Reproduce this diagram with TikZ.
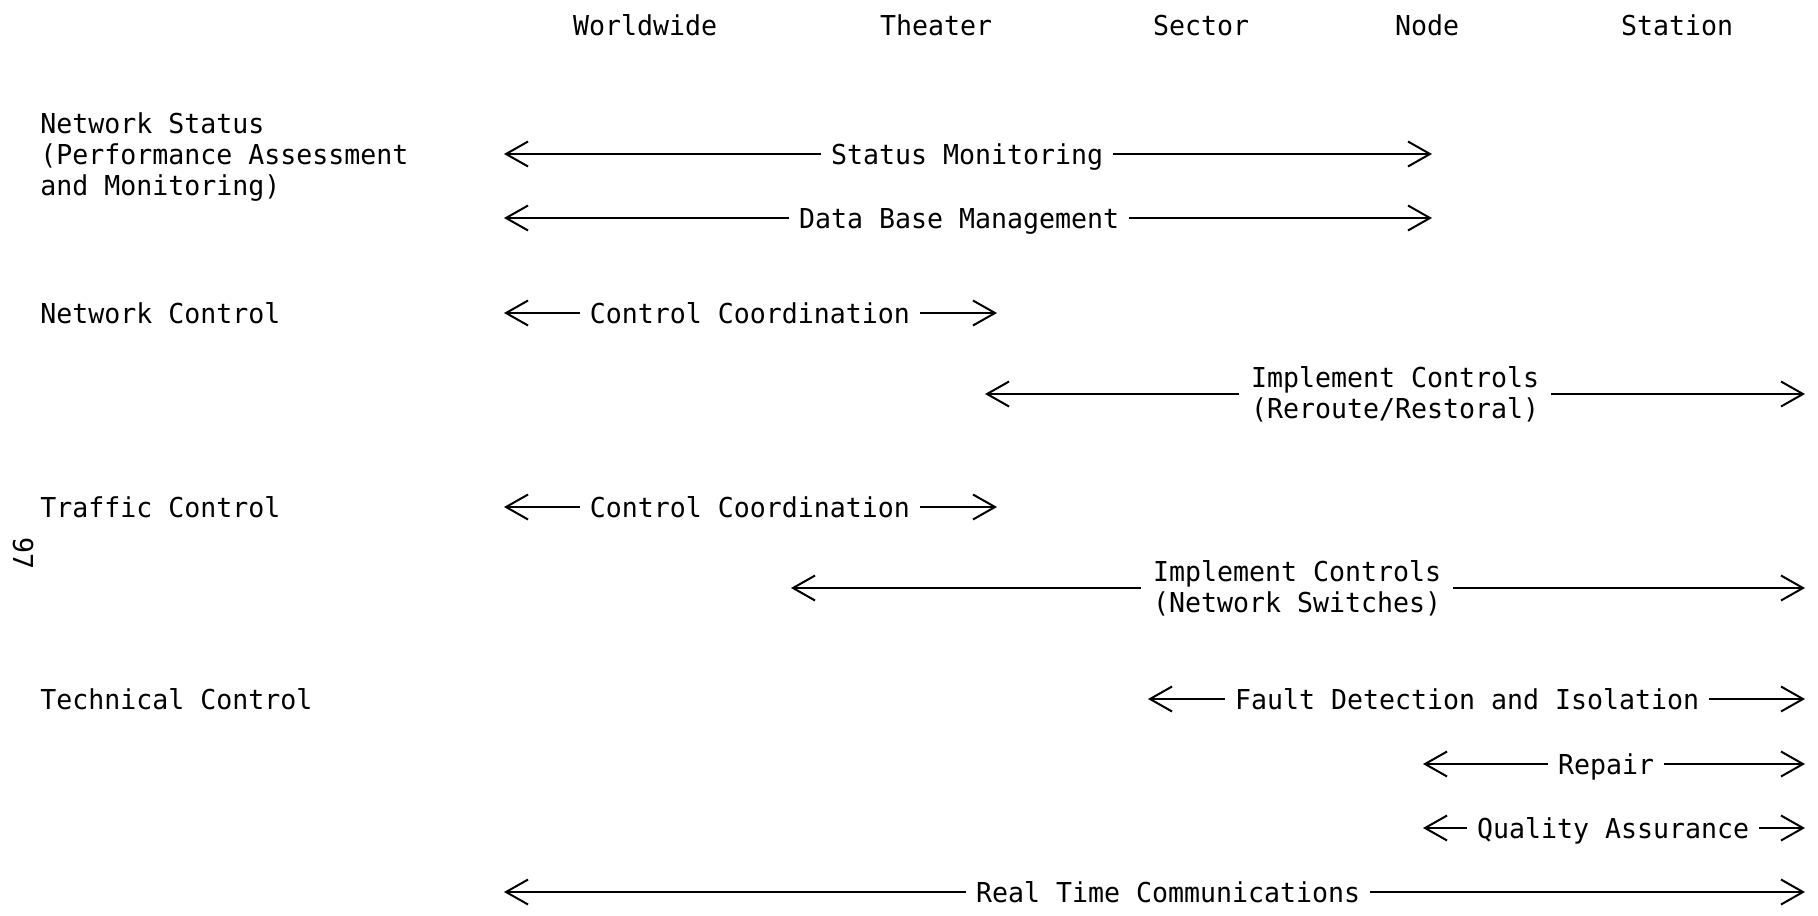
\documentclass[tikz,border=0pt]{standalone}
\usepackage{fontspec}
\setmonofont[FakeStretch=0.97]{DejaVu Sans Mono}
\usetikzlibrary{arrows.meta}
\begin{document}
\begin{tikzpicture}[x=0.5pt,y=-0.5pt,
  every node/.style={font=\ttfamily\fontsize{13.7}{15.65}\selectfont, inner sep=0pt},
  head/.style={anchor=base},
  rowlabel/.style={anchor=north west, align=left},
  span/.style={anchor=base, inner xsep=5pt},
  spantwo/.style={anchor=center, align=center, inner xsep=6pt},
  flow/.style={line width=1pt, -{Straight Barb[length=11pt,width=12.5pt]}},
]
\useasboundingbox (0,0) rectangle (1818,915);

% column headings
\node[head] (hw) at (645,36) {Worldwide};
\node[head] (ht) at (936,36) {Theater};
\node[head] (hs) at (1201,36) {Sector};
\node[head] (hn) at (1427,36) {Node};
\node[head] (hst) at (1677,36) {Station};

% row headings
\node[rowlabel] (rs) at (40,112) {Network Status\\(Performance Assessment\\and Monitoring)};
\node[rowlabel] (rn) at (40,302) {Network Control};
\node[rowlabel] (rt) at (40,496) {Traffic Control};
\node[rowlabel] (rc) at (40,688) {Technical Control};

% page number
\node[rotate=-90] (pg) at (23,553) {97};

% span end points
\coordinate (a1) at (504,154);  \coordinate (b1) at (1432,154);
\coordinate (a2) at (504,218);  \coordinate (b2) at (1432,218);
\coordinate (a3) at (504,313);  \coordinate (b3) at (997,313);
\coordinate (a4) at (985,394);  \coordinate (b4) at (1805,394);
\coordinate (a5) at (504,507);  \coordinate (b5) at (997,507);
\coordinate (a6) at (791,588);  \coordinate (b6) at (1805,588);
\coordinate (a7) at (1148,699); \coordinate (b7) at (1805,699);
\coordinate (a8) at (1423,764); \coordinate (b8) at (1805,764);
\coordinate (a9) at (1423,828); \coordinate (b9) at (1805,828);
\coordinate (a10) at (504,892); \coordinate (b10) at (1805,892);

% span labels (baseline sits half a cap height below the line)
\node[span] (l1) at (967,164) {Status Monitoring};
\node[span] (l2) at (959,228) {Data Base Management};
\node[span] (l3) at (750,323) {Control Coordination};
\node[spantwo] (l4) at (1395,394) {Implement Controls\\(Reroute/Restoral)};
\node[span] (l5) at (750,517) {Control Coordination};
\node[spantwo] (l6) at (1297,588) {Implement Controls\\(Network Switches)};
\node[span] (l7) at (1467,709) {Fault Detection and Isolation};
\node[span] (l8) at (1606,774) {Repair};
\node[span] (l9) at (1613,838) {Quality Assurance};
\node[span] (l10) at (1168,902) {Real Time Communications};

% double-headed spans
\foreach \i in {1,...,10} {
  \draw[flow] (l\i.west |- a\i) -- (a\i);
  \draw[flow] (l\i.east |- b\i) -- (b\i);
}
\end{tikzpicture}
\end{document}
